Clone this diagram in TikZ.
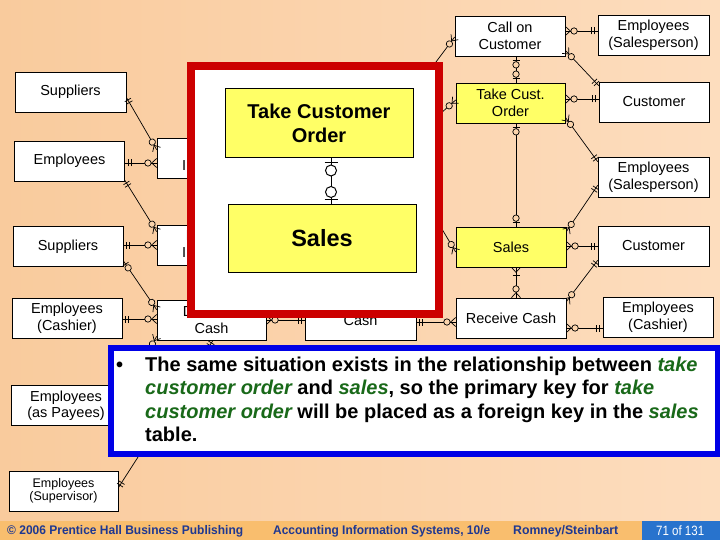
\documentclass[tikz,border=0pt]{standalone}
\usepackage{fontspec}
\usepackage{graphicx}
\setmainfont{Liberation Sans}
\usetikzlibrary{calc,decorations.markings}
\definecolor{bgL}{RGB}{249,203,157}
\definecolor{bgR}{RGB}{253,221,190}
\definecolor{bgm}{RGB}{251,212,172}
\definecolor{yel}{RGB}{255,255,102}
\definecolor{redc}{RGB}{204,0,0}
\definecolor{bluec}{RGB}{0,0,230}
\definecolor{grn}{RGB}{25,105,25}
\definecolor{footc}{RGB}{249,190,110}
\definecolor{foottxt}{RGB}{31,56,145}
\definecolor{pagec}{RGB}{40,115,205}
\newcommand\grnit[1]{{\color{grn}\itshape #1}}
\tikzset{
  cn/.style={draw=black, line width=0.7pt},
  cnb/.style={draw=black, line width=1pt},
  ent/.style={draw=black, line width=0.7pt, fill=white, minimum width=110pt, minimum height=40pt,
    inner sep=0pt, align=center, font=\fontsize{14.5}{17}\selectfont},
  big/.style={draw=black, line width=1pt, fill=yel, inner sep=0pt, align=center},
  oneS/.style={postaction={decorate,decoration={markings,
    mark=at position 3pt with {\draw[cn] (0,-3.5pt)--(0,3.5pt);},
    mark=at position 6pt with {\draw[cn] (0,-3.5pt)--(0,3.5pt);}}}},
  oneE/.style={postaction={decorate,decoration={markings,
    mark=at position -6pt with {\draw[cn] (0,-3.5pt)--(0,3.5pt);},
    mark=at position -3pt with {\draw[cn] (0,-3.5pt)--(0,3.5pt);}}}},
  zmS/.style={postaction={decorate,decoration={markings,
    mark=at position 5pt with {\draw[cn] (0,0)--(-5pt,4.5pt) (0,0)--(-5pt,-4.5pt);},
    mark=at position 8.7pt with {\draw[cn,fill=bgm] (0,0) circle (3.2pt);}}}},
  zmE/.style={postaction={decorate,decoration={markings,
    mark=at position -8.7pt with {\draw[cn,fill=bgm] (0,0) circle (3.2pt);},
    mark=at position -5pt with {\draw[cn] (0,0)--(5pt,4.5pt) (0,0)--(5pt,-4.5pt);}}}},
  zoS/.style={postaction={decorate,decoration={markings,
    mark=at position 4pt with {\draw[cn] (0,-3.5pt)--(0,3.5pt);},
    mark=at position 8.5pt with {\draw[cn,fill=bgm] (0,0) circle (3.2pt);}}}},
  zoE/.style={postaction={decorate,decoration={markings,
    mark=at position -8.5pt with {\draw[cn,fill=bgm] (0,0) circle (3.2pt);},
    mark=at position -4pt with {\draw[cn] (0,-3.5pt)--(0,3.5pt);}}}},
  omS/.style={postaction={decorate,decoration={markings,
    mark=at position 5pt with {\draw[cn] (0,0)--(-5pt,4.5pt) (0,0)--(-5pt,-4.5pt);},
    mark=at position 8pt with {\draw[cn] (0,-3.5pt)--(0,3.5pt);}}}},
  zoSb/.style={postaction={decorate,decoration={markings,
    mark=at position 4pt with {\draw[cnb] (0,-6.5pt)--(0,6.5pt);},
    mark=at position 12pt with {\draw[cnb,fill=white] (0,0) circle (5.5pt);}}}},
  zoEb/.style={postaction={decorate,decoration={markings,
    mark=at position -12pt with {\draw[cnb,fill=white] (0,0) circle (5.5pt);},
    mark=at position -4.5pt with {\draw[cnb] (0,-6.5pt)--(0,6.5pt);}}}},
  foot/.style={text=foottxt, inner sep=0pt, anchor=west, font=\fontsize{12.5}{14}\selectfont\bfseries},
  bl/.style={anchor=base west, inner sep=0pt, font=\fontsize{20}{24}\selectfont\bfseries}
}
\begin{document}
\begin{tikzpicture}[x=1pt,y=-1pt]
\useasboundingbox (0,0) rectangle (720,540);
\fill[left color=bgL, right color=bgR] (0,0) rectangle (720,540);
% footer
\fill[footc] (0,521) rectangle (720,540);
\fill[pagec] (642,521) rectangle (720,540);
\node[foot] (f1) at (7,531) {\resizebox{236pt}{\height}{© 2006 Prentice Hall Business Publishing}};
\node[foot] (f2) at (273,531) {\resizebox{217pt}{\height}{Accounting Information Systems, 10/e}};
\node[foot] (f3) at (513,531) {\resizebox{105pt}{\height}{Romney/Steinbart}};
\node[foot, text=white, font=\fontsize{13.5}{15}\selectfont] (f4) at (656,531) {\resizebox{48pt}{\height}{71 of 131}};
% entities
\node[ent, minimum width=111pt] (sup1) at (70.5,92) {Suppliers};
\node[ent] (emp1) at (69.5,161) {Employees};
\node[ent] (inv) at (212,158) {Order\\Inventory};
\node[ent] (sup2) at (68,246.5) {Suppliers};
\node[ent] (rinv) at (212,245) {Receive\\Inventory};
\node[ent] (empc1) at (67,318) {Employees\\(Cashier)};
\node[ent, minimum width=109pt] (disb) at (211.5,320) {Disburse\\Cash};
\node[ent, minimum width=111pt] (cash) at (360.5,320) {Cash};
\node[ent] (rcash) at (511,318) {Receive Cash};
\node[ent] (empc2) at (658,317) {Employees\\(Cashier)};
\node[ent, fill=yel] (sales2) at (511,247) {Sales};
\node[ent, minimum width=111pt] (cust2) at (653.5,246) {Customer};
\node[ent, minimum width=111pt] (emps2) at (653.5,177) {Employees\\(Salesperson)};
\node[ent] (cust1) at (654,102) {Customer};
\node[ent, minimum width=111pt] (emps1) at (653.5,35) {Employees\\(Salesperson)};
\node[ent] (call) at (510,36) {Call on\\Customer};
\node[ent, fill=yel, minimum width=109pt] (tco) at (510.5,103) {Take Cust.\\Order};
\node[ent, font=\fontsize{14.5}{16}\selectfont] (empp) at (66,405.5) {Employees\\(as Payees)};
\node[ent, font=\fontsize{12.5}{13.5}\selectfont, minimum width=109pt] (emps) at (63.5,491) {Employees\\(Supervisor)};
% hidden stub ends
\coordinate (h1) at (430,70);
\coordinate (h2) at (430,123);
\coordinate (h3) at (430,209);
% right connectors
\draw[cn, zmS, oneE] ($(call.east)+(0,-5)$) -- ($(emps1.west)+(0,-4)$);
\draw[cn, zmS, oneE] ($(call.south east)+(0,-6)$) -- ($(cust1.north west)+(0,4)$);
\draw[cn, zoS, zoE] ($(call.south)+(6,0)$) -- ($(tco.north)+(5.5,0)$);
\draw[cn, zmS, oneE] ($(tco.east)+(0,-4)$) -- ($(cust1.west)+(0,-3)$);
\draw[cn, zmS, oneE] ($(tco.south east)+(0,-6)$) -- ($(emps2.north west)+(0,5)$);
\draw[cn, zoS, zoE] ($(tco.south)+(5.5,0)$) -- ($(sales2.north)+(5,0)$);
\draw[cn, zmS, oneE] ($(sales2.north east)+(0,5)$) -- ($(emps2.south west)+(0,-12)$);
\draw[cn, zmS, oneE] ($(sales2.east)+(0,-1)$) -- (cust2.west);
\draw[cn, omS, zmE] ($(sales2.south)+(5,0)$) -- ($(rcash.north)+(5,0)$);
\draw[cn, zmS, oneE] ($(rcash.north east)+(0,4)$) -- ($(cust2.south west)+(0,-6)$);
\draw[cn, zmS, oneE] ($(rcash.east)+(0,10)$) -- ($(empc2.west)+(0,11)$);
\draw[cn, oneS, zmE] ($(cash.east)+(0,2)$) -- ($(rcash.west)+(0,4)$);
\draw[cn, zmS, oneE] (disb.east) -- (cash.west);
\draw[cn, zmS] ($(call.west)+(0,1)$) -- (h1);
\draw[cn, zmS] ($(tco.west)+(0,-3)$) -- (h2);
\draw[cn, zmS] ($(sales2.west)+(0,5)$) -- (h3);
% left connectors
\draw[cn, oneS, zmE] ($(sup1.south east)+(0,-15)$) -- ($(inv.north west)+(0,12)$);
\draw[cn, oneS, zmE] ($(emp1.east)+(0,2)$) -- ($(inv.west)+(0,5)$);
\draw[cn, oneS, zmE] ($(emp1.south east)+(0,-1)$) -- ($(rinv.north west)+(0,7)$);
\draw[cn, oneS, zmE] ($(sup2.east)+(0,-1.5)$) -- (rinv.west);
\draw[cn, zoS, zmE] ($(sup2.south east)+(0,-6)$) -- ($(disb.north west)+(0,10)$);
\draw[cn, oneS, zmE] ($(empc1.east)+(0,1)$) -- ($(disb.west)+(0,-1)$);
\draw[cn, zmS, oneE] ($(disb.south west)+(0,-4)$) -- ($(empp.east)+(0,-5)$);
\draw[cn, oneS, oneE] ($(disb.south)+(1.5,0)$) -- ($(emps.north east)+(0,17)$);
% red frame
\draw[line width=8pt, draw=redc, fill=white] (191,66) rectangle (439,314);
\node[big, minimum width=188pt, minimum height=69pt, font=\fontsize{20}{24}\selectfont\bfseries] (tcob) at (319,123.5) {Take Customer\\Order};
\node[big, minimum width=188pt, minimum height=68pt, font=\fontsize{23.5}{26}\selectfont\bfseries] (salesb) at (322,238.5) {Sales};
\draw[cnb, zoSb, zoEb] ($(tcob.south)+(12,0)$) -- ($(salesb.north)+(9,0)$);
% blue box
\draw[line width=5.5pt, draw=bluec, fill=white] (110.75,347.75) rectangle (717.25,454);
\node[bl] (b0) at (116,371) {•};
\node[bl] (l1) at (145,371) {The same situation exists in the relationship between \grnit{take}};
\node[bl] (l2) at (145,394.5) {\grnit{customer order} and \grnit{sales}, so the primary key for \grnit{take}};
\node[bl] (l3) at (145,418) {\grnit{customer order} will be placed as a foreign key in the \grnit{sales}};
\node[bl] (l4) at (145,441.5) {table.};
\end{tikzpicture}
\end{document}
